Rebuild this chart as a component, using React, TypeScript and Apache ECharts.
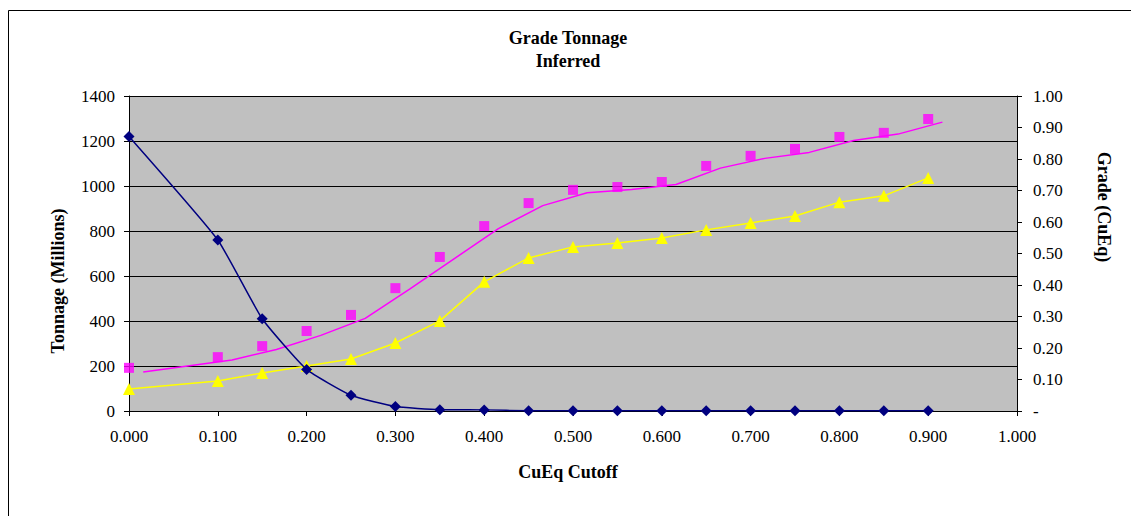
import React, { useEffect, useRef } from "react";
import * as echarts from "echarts";

// Cutoff grades for the marker series
const cutoffs = [0, 0.1, 0.15, 0.2, 0.25, 0.3, 0.35, 0.4, 0.45, 0.5, 0.55, 0.6, 0.65, 0.7, 0.75, 0.8, 0.85, 0.9];
// Tonnage (Millions)
const tonnage = [1220, 760, 410, 185, 70, 20, 6, 5, 1, 1, 1, 1, 1, 1, 1, 1, 1, 1];
// Grade (CuEq) squares
const gradeSquares = [0.137, 0.171, 0.206, 0.254, 0.305, 0.39, 0.489, 0.587, 0.66, 0.702, 0.711, 0.727, 0.778, 0.81, 0.832, 0.87, 0.883, 0.927];
// Grade triangles
const gradeTriangles = [0.07, 0.095, 0.121, 0.143, 0.165, 0.216, 0.286, 0.41, 0.486, 0.521, 0.533, 0.549, 0.575, 0.597, 0.619, 0.663, 0.683, 0.74];
// Magenta line (separate series)
const magentaX = [0.016, 0.066, 0.116, 0.166, 0.216, 0.266, 0.316, 0.366, 0.416, 0.466, 0.516, 0.566, 0.616, 0.666, 0.716, 0.766, 0.816, 0.866, 0.916];
const magentaY = [0.124, 0.143, 0.162, 0.195, 0.24, 0.294, 0.387, 0.483, 0.579, 0.652, 0.693, 0.703, 0.719, 0.771, 0.802, 0.821, 0.859, 0.879, 0.917];

const FONT = "'Liberation Serif', 'Times New Roman', serif";
const TICK_SIZE = 17;
const TITLE_FONT = `bold 18px ${FONT}`;

export default function App() {
  const ref = useRef<HTMLDivElement>(null);
  useEffect(() => {
    if (!ref.current) return;
    const chart = echarts.init(ref.current, null, { renderer: "svg" });
    const zip = (xs: number[], ys: number[]) => xs.map((x, i) => [x, ys[i]]);
    chart.setOption({
      animation: false,
      backgroundColor: "#ffffff",
      grid: {
        left: 129,
        right: 114,
        top: 96,
        bottom: 105,
        show: true,
        backgroundColor: "#C0C0C0",
        borderWidth: 0,
      },
      xAxis: {
        type: "value",
        min: 0,
        max: 1,
        interval: 0.1,
        axisLine: { show: true, onZero: false, lineStyle: { color: "#000", width: 1 } },
        axisTick: { show: true, inside: false, length: 5, lineStyle: { color: "#000" } },
        splitLine: { show: false },
        axisLabel: {
          color: "#000",
          fontFamily: FONT,
          fontSize: TICK_SIZE,
          margin: 17,
          formatter: (v: number) => v.toFixed(3),
        },
      },
      yAxis: [
        {
          type: "value",
          min: 0,
          max: 1400,
          interval: 200,
          position: "left",
          axisLine: { show: true, lineStyle: { color: "#000", width: 1 } },
          axisTick: { show: true, inside: false, length: 5, lineStyle: { color: "#000" } },
          splitLine: { show: true, lineStyle: { color: "#000", width: 1 } },
          axisLabel: {
            color: "#000",
            fontFamily: FONT,
            fontSize: TICK_SIZE,
            margin: 14,
            formatter: (v: number) => String(v),
          },
        },
        {
          type: "value",
          min: 0,
          max: 1,
          interval: 0.1,
          position: "right",
          axisLine: { show: true, lineStyle: { color: "#000", width: 1 } },
          axisTick: { show: true, inside: false, length: 5, lineStyle: { color: "#000" } },
          splitLine: { show: false },
          axisLabel: {
            color: "#000",
            fontFamily: FONT,
            fontSize: TICK_SIZE,
            margin: 16,
            formatter: (v: number) => (v === 0 ? "-" : v.toFixed(2)),
          },
        },
      ],
      graphic: [
        {
          type: "rect",
          shape: { x: 8.5, y: 10.5, width: 1200, height: 600 },
          style: { fill: "none", stroke: "#000", lineWidth: 1 },
          silent: true,
        },
        {
          type: "text",
          x: 568,
          y: 38,
          style: { text: "Grade Tonnage", font: TITLE_FONT, fill: "#000", align: "center", verticalAlign: "middle" },
        },
        {
          type: "text",
          x: 568,
          y: 61,
          style: { text: "Inferred", font: TITLE_FONT, fill: "#000", align: "center", verticalAlign: "middle" },
        },
        {
          type: "text",
          x: 568,
          y: 472,
          style: { text: "CuEq Cutoff", font: TITLE_FONT, fill: "#000", align: "center", verticalAlign: "middle" },
        },
        {
          type: "text",
          x: 58,
          y: 281,
          rotation: Math.PI / 2,
          style: { text: "Tonnage (Millions)", font: TITLE_FONT, fill: "#000", align: "center", verticalAlign: "middle" },
        },
        {
          type: "text",
          x: 1104,
          y: 207,
          rotation: -Math.PI / 2,
          style: { text: "Grade (CuEq)", font: TITLE_FONT, fill: "#000", align: "center", verticalAlign: "middle" },
        },
      ],
      series: [
        {
          name: "Magenta line",
          type: "line",
          yAxisIndex: 1,
          data: zip(magentaX, magentaY),
          symbol: "none",
          lineStyle: { color: "#FF00FF", width: 1.5 },
          z: 2,
        },
        {
          name: "Grade squares",
          type: "scatter",
          yAxisIndex: 1,
          data: zip(cutoffs, gradeSquares),
          symbol: "rect",
          symbolSize: 10,
          itemStyle: { color: "#FF00FF" },
          z: 3,
        },
        {
          name: "Grade triangles",
          type: "line",
          yAxisIndex: 1,
          data: zip(cutoffs, gradeTriangles),
          symbol: "triangle",
          symbolSize: 12,
          showAllSymbol: true,
          lineStyle: { color: "#FFFF00", width: 1.5 },
          itemStyle: { color: "#FFFF00" },
          z: 3,
        },
        {
          name: "Tonnage",
          type: "line",
          yAxisIndex: 0,
          data: zip(cutoffs, tonnage),
          smooth: 0.15,
          symbol: "diamond",
          symbolSize: 11,
          showAllSymbol: true,
          lineStyle: { color: "#000080", width: 1.5 },
          itemStyle: { color: "#000080" },
          z: 4,
        },
      ],
    });
    return () => chart.dispose();
  }, []);
  return (
    <div
      ref={ref}
      style={{ position: "absolute", left: 0, top: 0, width: 1131, height: 516 }}
    />
  );
}
